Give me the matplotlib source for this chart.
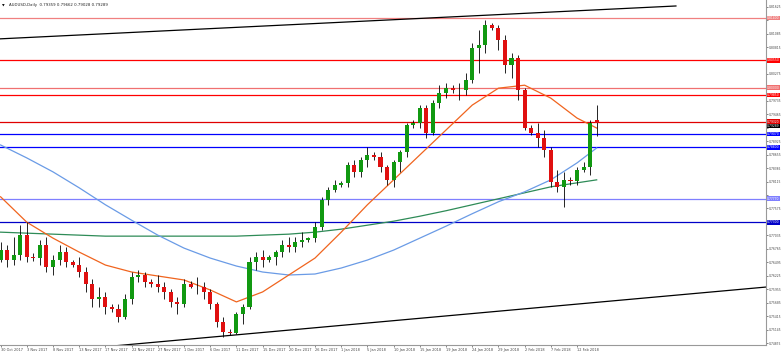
import matplotlib
matplotlib.use("Agg")
import matplotlib.pyplot as plt
import matplotlib.transforms as mtransforms
import numpy as np

# daily bars (broker has Sunday bars)
dates = ["30 Oct 2017", "31 Oct 2017", "1 Nov 2017", "2 Nov 2017", "3 Nov 2017", "5 Nov 2017",
         "6 Nov 2017", "7 Nov 2017", "8 Nov 2017", "9 Nov 2017", "10 Nov 2017", "12 Nov 2017",
         "13 Nov 2017", "14 Nov 2017", "15 Nov 2017", "16 Nov 2017", "17 Nov 2017", "19 Nov 2017",
         "20 Nov 2017", "21 Nov 2017", "22 Nov 2017", "23 Nov 2017", "24 Nov 2017", "26 Nov 2017",
         "27 Nov 2017", "28 Nov 2017", "29 Nov 2017", "30 Nov 2017", "1 Dec 2017", "3 Dec 2017",
         "4 Dec 2017", "5 Dec 2017", "6 Dec 2017", "7 Dec 2017", "8 Dec 2017", "10 Dec 2017",
         "11 Dec 2017", "12 Dec 2017", "13 Dec 2017", "14 Dec 2017", "15 Dec 2017", "17 Dec 2017",
         "18 Dec 2017", "19 Dec 2017", "20 Dec 2017", "21 Dec 2017", "22 Dec 2017", "24 Dec 2017",
         "26 Dec 2017", "27 Dec 2017", "28 Dec 2017", "29 Dec 2017", "1 Jan 2018", "2 Jan 2018",
         "3 Jan 2018", "4 Jan 2018", "5 Jan 2018", "7 Jan 2018", "8 Jan 2018", "9 Jan 2018",
         "10 Jan 2018", "11 Jan 2018", "12 Jan 2018", "14 Jan 2018", "15 Jan 2018", "16 Jan 2018",
         "17 Jan 2018", "18 Jan 2018", "19 Jan 2018", "21 Jan 2018", "22 Jan 2018", "23 Jan 2018",
         "24 Jan 2018", "25 Jan 2018", "26 Jan 2018", "28 Jan 2018", "29 Jan 2018", "30 Jan 2018",
         "31 Jan 2018", "1 Feb 2018", "2 Feb 2018", "4 Feb 2018", "5 Feb 2018", "6 Feb 2018",
         "7 Feb 2018", "8 Feb 2018", "9 Feb 2018", "11 Feb 2018", "12 Feb 2018", "13 Feb 2018",
         "14 Feb 2018", "15 Feb 2018"]

opens = [0.7655, 0.7675, 0.7655, 0.7665, 0.7705, 0.7660, 0.7658, 0.7685, 0.7640, 0.7655, 0.7670, 0.7650,
         0.7645, 0.7630, 0.7605, 0.7575, 0.7580, 0.7560, 0.7555, 0.7540, 0.7575, 0.7620, 0.7625, 0.7610,
         0.7605, 0.7600, 0.7590, 0.7570, 0.7565, 0.7605, 0.7600, 0.7600, 0.7590, 0.7565, 0.7530, 0.7510,
         0.7508, 0.7545, 0.7560, 0.7650, 0.7660, 0.7655, 0.7660, 0.7670, 0.7685, 0.7680, 0.7690, 0.7695,
         0.7698, 0.7720, 0.7775, 0.7795, 0.7805, 0.7808, 0.7845, 0.7830, 0.7855, 0.7865, 0.7860, 0.7840,
         0.7815, 0.7850, 0.7870, 0.7925, 0.7930, 0.7960, 0.7910, 0.7970, 0.7990, 0.8000, 0.7995, 0.7995,
         0.8015, 0.8080, 0.8085, 0.8125, 0.8120, 0.8095, 0.8045, 0.8060, 0.7995, 0.7920, 0.7910, 0.7900,
         0.7875, 0.7810, 0.7800, 0.7815, 0.7812, 0.7835, 0.7840, 0.7936]
highs = [0.7690, 0.7685, 0.7700, 0.7725, 0.7730, 0.7668, 0.7695, 0.7700, 0.7665, 0.7685, 0.7680, 0.7655,
         0.7660, 0.7640, 0.7615, 0.7600, 0.7590, 0.7565, 0.7565, 0.7585, 0.7630, 0.7635, 0.7630, 0.7615,
         0.7625, 0.7610, 0.7595, 0.7580, 0.7615, 0.7612, 0.7620, 0.7610, 0.7595, 0.7570, 0.7540, 0.7515,
         0.7550, 0.7565, 0.7660, 0.7670, 0.7675, 0.7665, 0.7675, 0.7695, 0.7700, 0.7700, 0.7710, 0.7700,
         0.7730, 0.7780, 0.7800, 0.7815, 0.7812, 0.7850, 0.7855, 0.7860, 0.7880, 0.7870, 0.7870, 0.7845,
         0.7855, 0.7875, 0.7930, 0.7935, 0.7965, 0.7965, 0.7975, 0.8005, 0.8010, 0.8005, 0.8010, 0.8030,
         0.8090, 0.8115, 0.8136, 0.8130, 0.8125, 0.8105, 0.8070, 0.8065, 0.8000, 0.7925, 0.7930, 0.7915,
         0.7880, 0.7835, 0.7830, 0.7820, 0.7840, 0.7850, 0.7935, 0.7966]
lows = [0.7650, 0.7640, 0.7645, 0.7655, 0.7650, 0.7652, 0.7645, 0.7630, 0.7625, 0.7645, 0.7640, 0.7640,
        0.7620, 0.7590, 0.7560, 0.7560, 0.7545, 0.7550, 0.7530, 0.7535, 0.7565, 0.7610, 0.7600, 0.7600,
        0.7590, 0.7575, 0.7560, 0.7545, 0.7560, 0.7598, 0.7585, 0.7575, 0.7555, 0.7520, 0.7500, 0.7503,
        0.7505, 0.7525, 0.7555, 0.7635, 0.7640, 0.7650, 0.7645, 0.7660, 0.7670, 0.7670, 0.7680, 0.7690,
        0.7690, 0.7715, 0.7765, 0.7790, 0.7800, 0.7800, 0.7820, 0.7820, 0.7840, 0.7855, 0.7830, 0.7805,
        0.7800, 0.7830, 0.7860, 0.7920, 0.7920, 0.7900, 0.7905, 0.7960, 0.7980, 0.7990, 0.7975, 0.7985,
        0.8010, 0.8030, 0.8070, 0.8115, 0.8075, 0.8030, 0.8020, 0.7975, 0.7915, 0.7905, 0.7880, 0.7860,
        0.7800, 0.7790, 0.7760, 0.7805, 0.7805, 0.7830, 0.7825, 0.7903]
closes = [0.7675, 0.7655, 0.7665, 0.7705, 0.7660, 0.7658, 0.7685, 0.7640, 0.7655, 0.7670, 0.7650, 0.7645,
          0.7630, 0.7605, 0.7575, 0.7580, 0.7560, 0.7555, 0.7540, 0.7575, 0.7620, 0.7625, 0.7610, 0.7605,
          0.7600, 0.7590, 0.7570, 0.7565, 0.7605, 0.7600, 0.7600, 0.7590, 0.7565, 0.7530, 0.7510, 0.7508,
          0.7545, 0.7560, 0.7650, 0.7660, 0.7655, 0.7660, 0.7670, 0.7685, 0.7680, 0.7690, 0.7695, 0.7698,
          0.7720, 0.7775, 0.7795, 0.7805, 0.7808, 0.7845, 0.7830, 0.7855, 0.7865, 0.7860, 0.7840, 0.7815,
          0.7850, 0.7870, 0.7925, 0.7930, 0.7960, 0.7910, 0.7970, 0.7990, 0.8000, 0.7995, 0.7995, 0.8015,
          0.8080, 0.8085, 0.8125, 0.8120, 0.8095, 0.8045, 0.8060, 0.7995, 0.7920, 0.7910, 0.7900, 0.7875,
          0.7810, 0.7800, 0.7815, 0.7812, 0.7835, 0.7840, 0.7930, 0.7929]

# moving averages read every 4th bar (plus last bar)
ma_bars = [0, 4, 8, 12, 16, 20, 24, 28, 32, 36, 40, 44, 48, 52, 56, 60, 64, 68, 72, 76, 80, 84, 88, 91]
ma_fast = [0.7781, 0.7730, 0.7698, 0.7670, 0.7644, 0.7630, 0.7622, 0.7614, 0.7594, 0.7570, 0.7590, 0.7624,
           0.7658, 0.7710, 0.7765, 0.7815, 0.7865, 0.7915, 0.7965, 0.7999, 0.8005, 0.7979, 0.7939, 0.7919]
ma_mid = [0.7885, 0.7859, 0.7831, 0.7799, 0.7765, 0.7734, 0.7704, 0.7678, 0.7658, 0.7642, 0.7630, 0.7624,
          0.7626, 0.7638, 0.7654, 0.7674, 0.7698, 0.7722, 0.7747, 0.7771, 0.7791, 0.7815, 0.7849, 0.7879]
ma_slow = [0.7710, 0.7708, 0.7706, 0.7704, 0.7702, 0.7702, 0.7702, 0.7702, 0.7702, 0.7702, 0.7704, 0.7706,
           0.7710, 0.7716, 0.7724, 0.7732, 0.7742, 0.7753, 0.7765, 0.7777, 0.7789, 0.7801, 0.7809, 0.7815]

# horizontal levels
res_levels = [0.8140, 0.8055, 0.8000, 0.7985, 0.7932]
res_colors = ["#f08080", "#ff0000", "#f07070", "#ff0000", "#e00000"]
sup_levels = [0.7907, 0.7880, 0.7777, 0.7730]
sup_colors = ["#0000ff", "#0000ff", "#7f7fff", "#0000c8"]
bid_price = 0.79289

# trend lines (bar index, price)
upper_trend_x = [-0.1, 103.1]
upper_trend_y = [0.8098, 0.8164]
lower_trend_x = [10.0, 117.0]
lower_trend_y = [0.7473, 0.7600]

title = "AUDUSD,Daily  0.79359 0.79662 0.79028 0.79289"

W, H = 782, 353
fig = plt.figure(figsize=(W / 100, H / 100), dpi=100)
ax = fig.add_axes([0, 8 / H, 766 / W, 345 / H])

x = np.arange(len(dates))
o = np.array(opens)
c = np.array(closes)
up = c >= o
col = np.where(up, "#119911", "#e01010")

ax.vlines(x, lows, highs, color="black", lw=0.6, zorder=3)
body_h = np.maximum(np.abs(c - o), 0.00006)
ax.bar(x, body_h, bottom=np.minimum(o, c), width=0.62, color=col, edgecolor="none", zorder=4)

ax.plot(ma_bars, ma_slow, color="#2e8b57", lw=0.9, zorder=2)
ax.plot(ma_bars, ma_mid, color="#6a9be6", lw=0.9, zorder=2)
ax.plot(ma_bars, ma_fast, color="#f0641e", lw=0.9, zorder=2)

ax.plot(upper_trend_x, upper_trend_y, color="black", lw=0.9, zorder=2)
ax.plot(lower_trend_x, lower_trend_y, color="black", lw=0.9, zorder=2)

lab_fs = 2.2
trans = mtransforms.blended_transform_factory(ax.transAxes, ax.transData)
for lvl, cl in zip(res_levels + sup_levels, res_colors + sup_colors):
    ax.axhline(lvl, color=cl, lw=0.9, zorder=1)
    ax.text(1.0015, lvl, f"{lvl:.5f}", transform=trans, fontsize=lab_fs, color="white",
            va="center", ha="left", clip_on=False, zorder=6,
            bbox=dict(boxstyle="square,pad=0.1", fc=cl, ec="none"))
ax.text(1.0015, bid_price - 0.0005, f"{bid_price:.5f}", transform=trans, fontsize=lab_fs, color="white",
        va="center", ha="left", clip_on=False, zorder=5,
        bbox=dict(boxstyle="square,pad=0.1", fc="black", ec="none"))

ax.set_xlim(-0.09, 116.85)
ax.set_ylim(0.74835, 0.81760)

# price scale; labels hidden where a level box covers them
marked = np.array(res_levels + sup_levels + [bid_price - 0.0005])
yt = 0.74875 + 0.0027 * np.arange(26)
ax.yaxis.tick_right()
ax.set_yticks(yt)
ax.set_yticklabels(["" if np.min(np.abs(marked - v)) < 0.0011 else f"{v:.5f}" for v in yt])
ax.set_xticks(x[::4])
ax.set_xticklabels(dates[::4], ha="left")
ax.tick_params(axis="both", labelsize=lab_fs, length=1.5, width=0.5, colors="#555555", pad=0.6)
ax.tick_params(axis="x", labelsize=2.5)
ax.tick_params(axis="both", labelcolor="#444444")

for s in ["top", "left"]:
    ax.spines[s].set_visible(False)
for s in ["bottom", "right"]:
    ax.spines[s].set_color("#999999")
    ax.spines[s].set_linewidth(0.8)

ax.text(0.003, 0.985, "\u25bc", transform=ax.transAxes, fontsize=2.5, va="center", ha="left")
ax.text(0.012, 0.985, title, transform=ax.transAxes, fontsize=2.8, va="center", ha="left", color="#222222")

fig.savefig("out.png", dpi=100)
